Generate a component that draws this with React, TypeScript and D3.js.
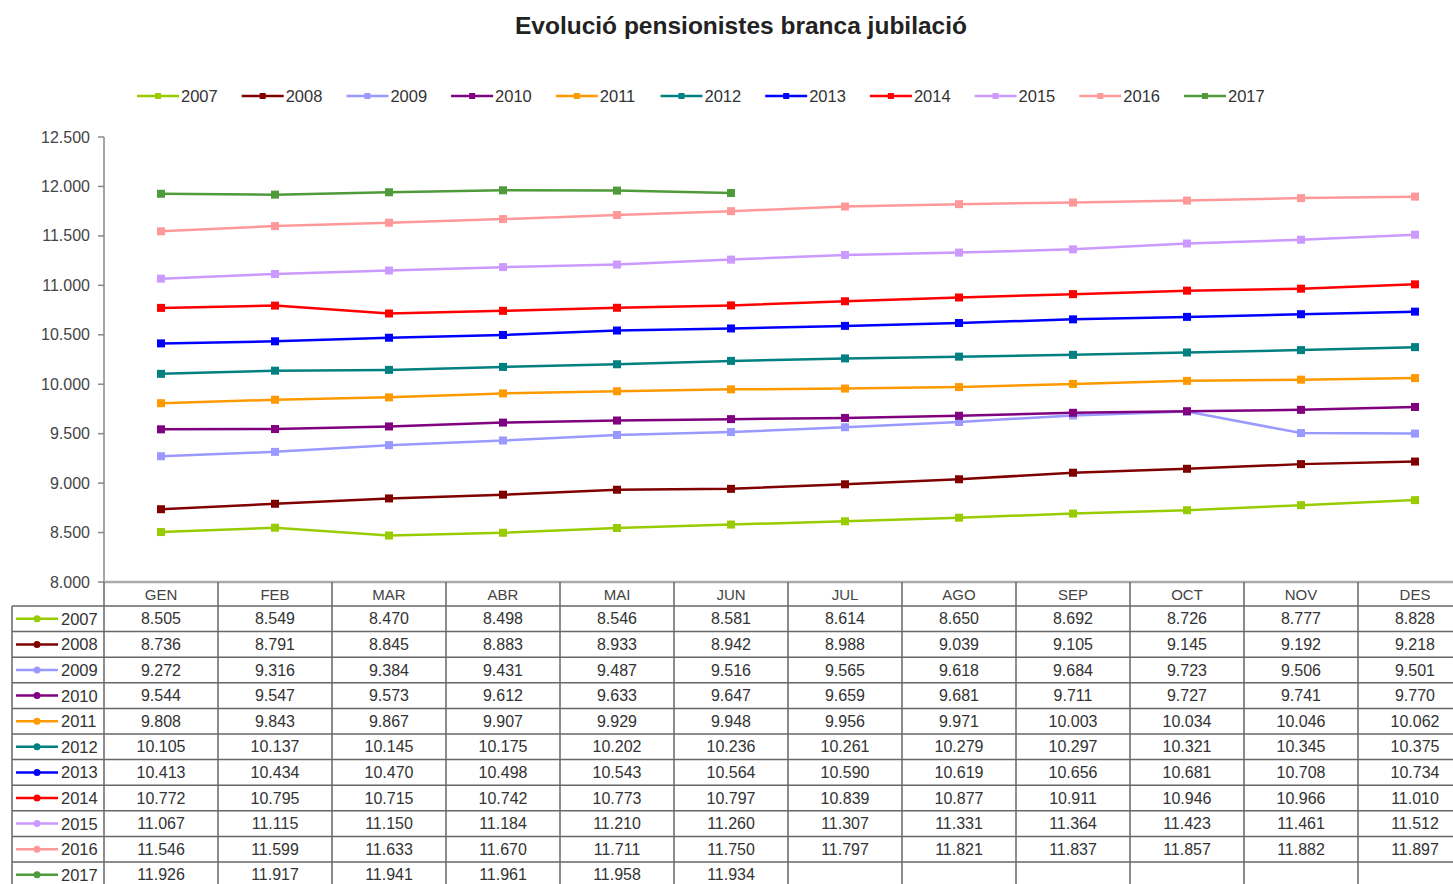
import * as d3 from "d3";

const months = ["GEN", "FEB", "MAR", "ABR", "MAI", "JUN", "JUL", "AGO", "SEP", "OCT", "NOV", "DES"];
const years = ["2007", "2008", "2009", "2010", "2011", "2012", "2013", "2014", "2015", "2016", "2017"];
const colors = ["#99cc00", "#800000", "#9999ff", "#800080", "#ff9900", "#008080", "#0000ff", "#ff0000", "#cc99ff", "#ff9999", "#4f9a3a"];

const v2007 = [8505, 8549, 8470, 8498, 8546, 8581, 8614, 8650, 8692, 8726, 8777, 8828];
const v2008 = [8736, 8791, 8845, 8883, 8933, 8942, 8988, 9039, 9105, 9145, 9192, 9218];
const v2009 = [9272, 9316, 9384, 9431, 9487, 9516, 9565, 9618, 9684, 9723, 9506, 9501];
const v2010 = [9544, 9547, 9573, 9612, 9633, 9647, 9659, 9681, 9711, 9727, 9741, 9770];
const v2011 = [9808, 9843, 9867, 9907, 9929, 9948, 9956, 9971, 10003, 10034, 10046, 10062];
const v2012 = [10105, 10137, 10145, 10175, 10202, 10236, 10261, 10279, 10297, 10321, 10345, 10375];
const v2013 = [10413, 10434, 10470, 10498, 10543, 10564, 10590, 10619, 10656, 10681, 10708, 10734];
const v2014 = [10772, 10795, 10715, 10742, 10773, 10797, 10839, 10877, 10911, 10946, 10966, 11010];
const v2015 = [11067, 11115, 11150, 11184, 11210, 11260, 11307, 11331, 11364, 11423, 11461, 11512];
const v2016 = [11546, 11599, 11633, 11670, 11711, 11750, 11797, 11821, 11837, 11857, 11882, 11897];
const v2017 = [11926, 11917, 11941, 11961, 11958, 11934];

const yTicks = [8000, 8500, 9000, 9500, 10000, 10500, 11000, 11500, 12000, 12500];

const seriesValues = [v2007, v2008, v2009, v2010, v2011, v2012, v2013, v2014, v2015, v2016, v2017];

const W = 1453;
const H = 884;
const FONT = "'Liberation Sans', Arial, sans-serif";

const fmt = d3.formatLocale({ decimal: ",", thousands: ".", grouping: [3], currency: ["", "€"] }).format(",d");

export default function App() {
  const plotLeft = 104;
  const plotTop = 137;
  const plotBottom = 582;
  const x = d3.scaleBand<string>().domain(months).range([plotLeft, 1472]);
  const y = d3.scaleLinear().domain([8000, 12500]).range([plotBottom, plotTop]);
  const cx = (j: number) => (x(months[j]) as number) + x.bandwidth() / 2;

  const line = d3
    .line<number>()
    .x((_, i) => cx(i))
    .y((d) => y(d));

  const tableTop = 606;
  const rowH = 25.6;
  const tableLeft = 12;

  const legendX0 = 137;
  const legendStep = 104.7;

  return (
    <div style={{ position: "absolute", left: 0, top: 0 }}>
      <svg width={W} height={H} style={{ display: "block", background: "#fff" }} fontFamily={FONT}>
        <text x={741} y={34} textAnchor="middle" fontSize={24.5} fontWeight="bold" fill="#222">
          Evolució pensionistes branca jubilació
        </text>

        {/* legend */}
        {years.map((yr, i) => {
          const lx = legendX0 + i * legendStep;
          return (
            <g key={yr}>
              <line x1={lx} x2={lx + 42} y1={96} y2={96} stroke={colors[i]} strokeWidth={2.5} />
              <rect x={lx + 18} y={93} width={6} height={6} fill={colors[i]} />
              <text x={lx + 44} y={102} fontSize={16.5} fill="#333">
                {yr}
              </text>
            </g>
          );
        })}

        {/* y axis */}
        <line x1={plotLeft} x2={plotLeft} y1={plotTop} y2={plotBottom} stroke="#888" strokeWidth={1.5} />
        {yTicks.map((t) => (
          <g key={t}>
            <line x1={plotLeft - 6} x2={plotLeft} y1={y(t)} y2={y(t)} stroke="#888" strokeWidth={1.5} />
            <text x={90} y={y(t) + 5.5} textAnchor="end" fontSize={16} fill="#444">
              {fmt(t)}
            </text>
          </g>
        ))}

        {/* series */}
        {seriesValues.map((vals, i) => (
          <g key={years[i]}>
            <path d={line(vals) as string} fill="none" stroke={colors[i]} strokeWidth={2.5} />
            {vals.map((v, j) => (
              <rect key={j} x={cx(j) - 4} y={y(v) - 4} width={8} height={8} fill={colors[i]} />
            ))}
          </g>
        ))}

        {/* data table */}
        <line x1={plotLeft} x2={W} y1={plotBottom} y2={plotBottom} stroke="#aaa" strokeWidth={2.5} />
        {months.map((m, j) => (
          <text key={m} x={cx(j)} y={600} textAnchor="middle" fontSize={15} fill="#444">
            {m}
          </text>
        ))}
        {d3.range(months.length + 1).map((k) => {
          const xx = k < months.length ? (x(months[k]) as number) : x.range()[1];
          return <line key={k} x1={xx} x2={xx} y1={plotBottom} y2={H} stroke="#666" strokeWidth={1.5} />;
        })}
        <line x1={tableLeft} x2={tableLeft} y1={tableTop} y2={H} stroke="#666" strokeWidth={1.5} />
        {d3.range(years.length + 1).map((r) => (
          <line
            key={r}
            x1={tableLeft}
            x2={W}
            y1={tableTop + r * rowH}
            y2={tableTop + r * rowH}
            stroke="#666"
            strokeWidth={1.5}
          />
        ))}
        {years.map((yr, i) => {
          const cy = tableTop + i * rowH + rowH / 2;
          return (
            <g key={yr}>
              <line x1={16} x2={58} y1={cy} y2={cy} stroke={colors[i]} strokeWidth={2.5} />
              <circle cx={37} cy={cy} r={3.5} fill={colors[i]} />
              <text x={61} y={cy + 6} fontSize={16.5} fill="#333">
                {yr}
              </text>
              {seriesValues[i].map((v, j) => (
                <text key={j} x={cx(j)} y={cy + 5.5} textAnchor="middle" fontSize={16} fill="#333">
                  {fmt(v)}
                </text>
              ))}
            </g>
          );
        })}
      </svg>
    </div>
  );
}
